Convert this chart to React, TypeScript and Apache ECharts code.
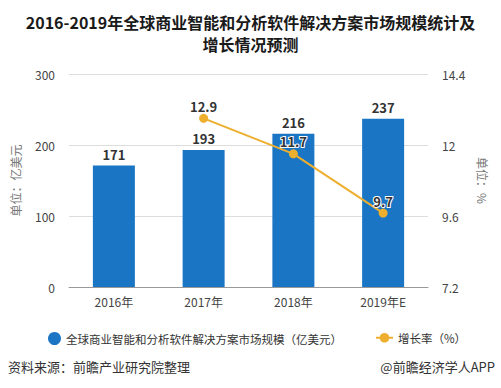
import React, { useEffect, useRef } from "react";
import * as echarts from "echarts";

const categories = ["2016年", "2017年", "2018年", "2019年E"];
const marketSize = [171, 193, 216, 237];
const growthRate: (number | null)[] = [null, 12.9, 11.7, 9.7];
const leftTicks = { min: 0, max: 300, interval: 100 };
const rightTicks = { min: 7.2, max: 14.4, interval: 2.4 };

const titleLines = ["2016-2019年全球商业智能和分析软件解决方案市场规模统计及", "增长情况预测"];
const barName = "全球商业智能和分析软件解决方案市场规模（亿美元）";
const lineName = "增长率（%）";

export default function App() {
  const ref = useRef<HTMLDivElement>(null);
  useEffect(() => {
    if (!ref.current) return;
    const chart = echarts.init(ref.current, null, { renderer: "svg" });
    const font = "'Microsoft YaHei', 'Noto Sans CJK SC', sans-serif";
    chart.setOption({
      animation: false,
      backgroundColor: "#fff",
      textStyle: { fontFamily: font },
      title: {
        text: titleLines.join("\n"),
        left: "center",
        top: 6,
        textStyle: {
          fontSize: 16,
          fontWeight: "bold",
          color: "#1a1a1a",
          lineHeight: 22,
          fontFamily: font,
        },
      },
      grid: { left: 69, right: 73, top: 74, bottom: 101 },
      legend: [
        {
          top: 327,
          left: 43,
          textStyle: { fontSize: 11.5, color: "#333" },
          data: [{ name: barName, icon: "circle" }],
          itemWidth: 13,
          itemHeight: 13,
        },
        {
          top: 327,
          left: 370,
          textStyle: { fontSize: 11.5, color: "#333" },
          data: [{ name: lineName }],
          itemWidth: 17,
          itemHeight: 12,
        },
      ],
      xAxis: {
        type: "category",
        data: categories,
        axisLine: { lineStyle: { color: "#999" } },
        axisTick: { alignWithLabel: true, length: 5, lineStyle: { color: "#999" } },
        axisLabel: { color: "#444", fontSize: 12, margin: 8 },
      },
      yAxis: [
        {
          type: "value",
          min: leftTicks.min,
          max: leftTicks.max,
          interval: leftTicks.interval,
          name: "单位：亿美元",
          nameLocation: "middle",
          nameGap: 48,
          nameTextStyle: { color: "#777", fontSize: 12 },
          axisLine: { show: false },
          axisTick: { show: false },
          axisLabel: { color: "#444", fontSize: 12, margin: 14 },
          splitLine: { lineStyle: { color: "#ddd" } },
        },
        {
          type: "value",
          min: rightTicks.min,
          max: rightTicks.max,
          interval: rightTicks.interval,
          name: "单位：%",
          nameLocation: "middle",
          nameGap: 48,
          nameRotate: -90,
          nameTextStyle: { color: "#777", fontSize: 12 },
          axisLine: { show: false },
          axisTick: { show: false },
          axisLabel: { color: "#444", fontSize: 12, margin: 14 },
          splitLine: { show: false },
        },
      ],
      series: [
        {
          name: barName,
          type: "bar",
          data: marketSize,
          barWidth: 42,
          itemStyle: { color: "#1a75c4" },
          label: {
            show: true,
            position: "top",
            color: "#333",
            fontWeight: "bold",
            fontSize: 13,
          },
        },
        {
          name: lineName,
          type: "line",
          yAxisIndex: 1,
          data: growthRate,
          symbol: "circle",
          symbolSize: 9,
          itemStyle: { color: "#eeae2e" },
          lineStyle: { color: "#eeae2e", width: 2 },
          label: {
            show: true,
            position: "top",
            distance: 1,
            color: "#333",
            fontWeight: "bold",
            fontSize: 13,
            textBorderColor: "#fff",
            textBorderWidth: 2,
          },
        },
      ],
      graphic: [
        {
          type: "text",
          left: 8,
          top: 360,
          style: { text: "资料来源：前瞻产业研究院整理", fill: "#333", fontSize: 13, fontFamily: font },
        },
        {
          type: "text",
          right: 6,
          top: 360,
          style: { text: "@前瞻经济学人APP", fill: "#333", fontSize: 13, fontFamily: font },
        },
      ],
    });
    return () => chart.dispose();
  }, []);
  return <div ref={ref} style={{ width: 501, height: 388, position: "absolute", left: 0, top: 0 }} />;
}
